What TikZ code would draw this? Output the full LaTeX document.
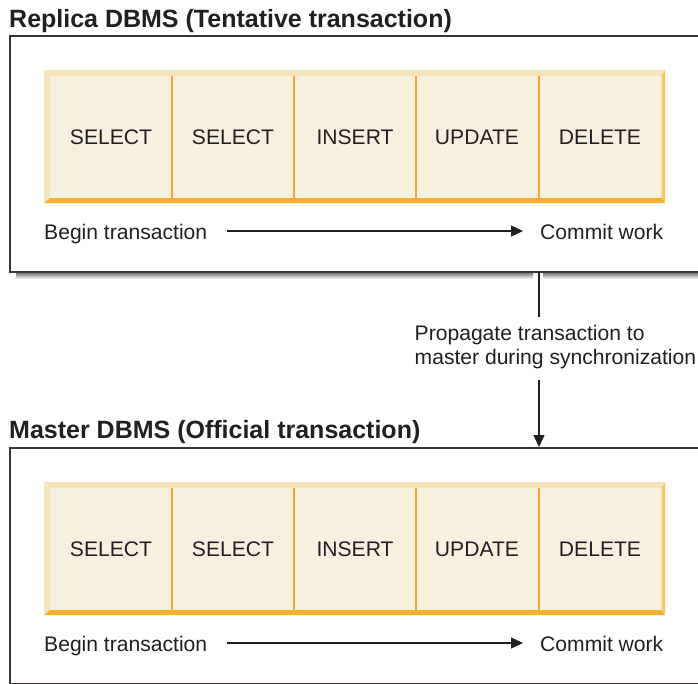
\documentclass[tikz,border=0pt]{standalone}
\usepackage{fontspec}
\setmainfont{Liberation Sans}
\usetikzlibrary{arrows.meta,calc}
\definecolor{cream}{HTML}{F8F0DF}
\definecolor{bevlight}{HTML}{F6E4BC}
\definecolor{bevbot}{HTML}{F5B12D}
\definecolor{bevright}{HTML}{F8CA5C}
\definecolor{divider}{HTML}{F5A533}
\definecolor{ink}{HTML}{231F20}
\definecolor{shade}{HTML}{E3E3E3}
\begin{document}
\begin{tikzpicture}[x=1pt,y=-1pt,
  txt/.style={font=\fontsize{21.1}{24.5}\selectfont, text=ink, inner sep=0pt},
  ttl/.style={font=\fontsize{25}{28}\selectfont\bfseries, text=ink, inner sep=0pt, anchor=base west},
  cell/.style={txt, anchor=center},
  frame/.style={draw=ink!90, line width=2pt},
  flow/.style={draw=ink, line width=1.3pt, -{Triangle[length=12pt,width=11pt]}},
  link/.style={draw=ink, line width=1.3pt},
  divline/.style={draw=divider, line width=1.3pt},
  pics/txbar/.style={code={
    \fill[shade] (16,237) rectangle (533,243);
    \fill[shade] (543,237) rectangle (698,243);
    \draw[frame] (698,0) -- (10,0) -- (10,236) -- (698,236);
    \fill[cream] (50,40) rectangle (661.5,162);
    \fill[bevlight] (44,34) -- (665,34) -- (661.5,40) -- (50,40) -- cycle;
    \fill[bevlight] (44,34) -- (50,40) -- (50,162) -- (44,167) -- cycle;
    \fill[bevbot] (44,167) -- (50,162) -- (661.5,162) -- (665,167) -- cycle;
    \fill[bevright] (665,34) -- (661.5,40) -- (661.5,162) -- (665,167) -- cycle;
    \foreach \x in {172,294,416,539} \draw[divline] (\x,40) -- (\x,162);
    \node[cell] (-c1) at (111,101) {SELECT};
    \node[cell] (-c2) at (233,101) {SELECT};
    \node[cell] (-c3) at (355,101) {INSERT};
    \node[cell] (-c4) at (477,101) {UPDATE};
    \node[cell] (-c5) at (600,101) {DELETE};
    \node[txt, anchor=base west] (-begin) at (44,203) {Begin transaction};
    \node[txt, anchor=base west] (-commit) at (540,203) {Commit work};
    \draw[flow] ([shift={(20pt,8pt)}]-begin.base east) -- ([shift={(-17pt,8pt)}]-commit.base west);
  }}
]
\clip (0,0) rectangle (698,683);
\useasboundingbox (0,0) rectangle (698,683);
\fill[white] (0,0) rectangle (698,683);
\node[ttl] (rtitle) at (9,27) {Replica DBMS (Tentative transaction)};
\pic (rep) at (0,36) {txbar};
\node[ttl] (mtitle) at (9,438) {Master DBMS (Official transaction)};
\pic (mas) at (0,448) {txbar};
\coordinate (src) at (539,272);
\coordinate (dst) at (539,447);
\node[txt, align=left, anchor=north west] (prop) at (414.5,325) {Propagate transaction to\\master during synchronization};
\draw[link] (src) -- ([yshift=8pt]prop.north -| src);
\draw[flow] ([yshift=-10pt]prop.south -| src) -- (dst);
\end{tikzpicture}
\end{document}
